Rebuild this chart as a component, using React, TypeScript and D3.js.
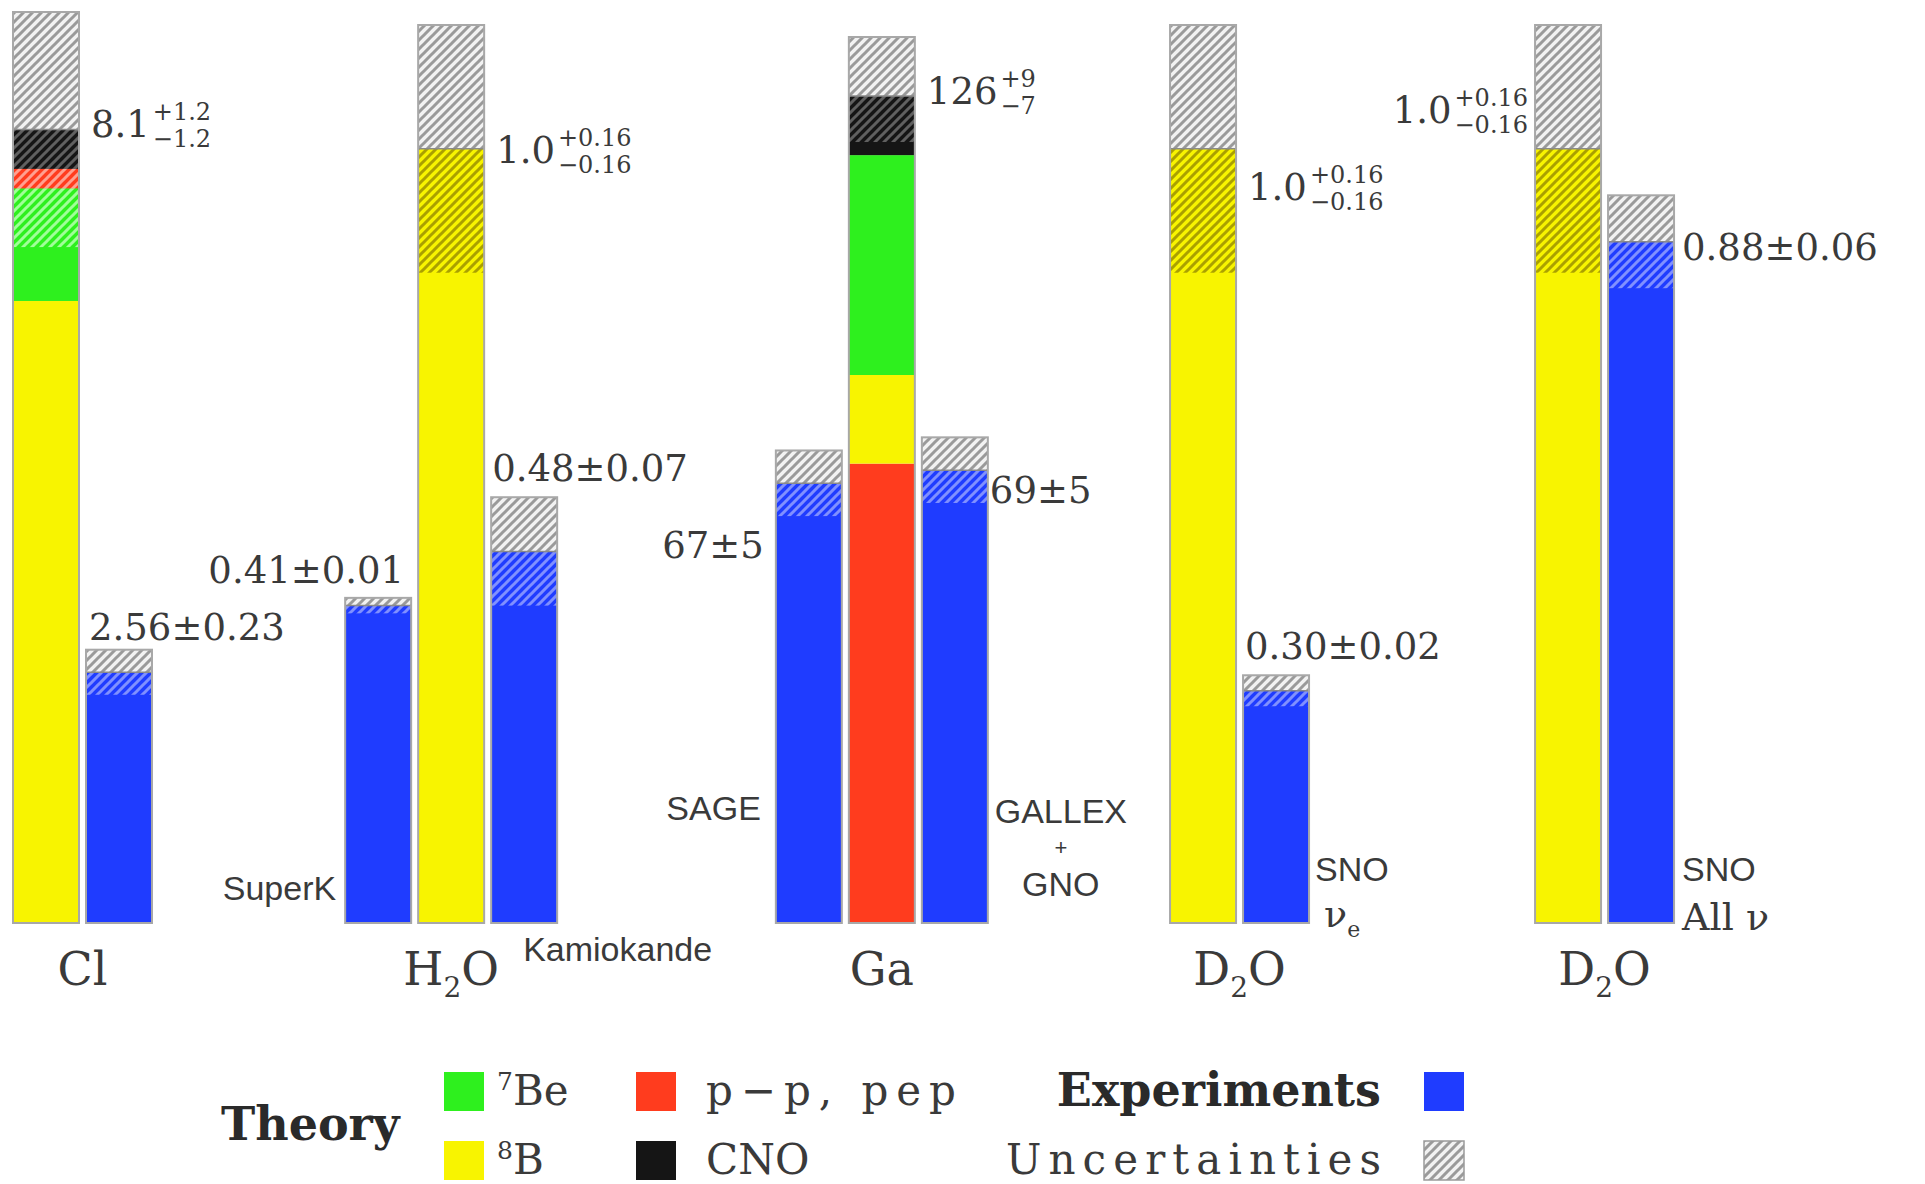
import React from "react";
import * as d3 from "d3";

// ---------------- data ----------------
const groupNames = ["Cl", "H2O", "Ga", "D2O", "D2O"];
const groupDomainMax = [9.3, 1.16, 135, 1.16, 1.16];

const clSources = ["8B", "7Be", "pp", "CNO"];
const clFluxes = [6.35, 1.15, 0.2, 0.4];
const waterSources = ["8B"];
const waterFluxes = [1.0];
const gaSources = ["pp", "8B", "7Be", "CNO"];
const gaFluxes = [70, 13.5, 33.5, 9];

const theorySources = [clSources, waterSources, gaSources, waterSources, waterSources];
const theoryFluxes = [clFluxes, waterFluxes, gaFluxes, waterFluxes, waterFluxes];
const theoryErrPlus = [1.2, 0.16, 9, 0.16, 0.16];
const theoryErrMinus = [1.2, 0.16, 7, 0.16, 0.16];
const theoryMain = ["8.1", "1.0", "126", "1.0", "1.0"];
const theoryPlus = ["+1.2", "+0.16", "+9", "+0.16", "+0.16"];
const theoryMinus = ["\u22121.2", "\u22120.16", "\u22127", "\u22120.16", "\u22120.16"];

const expGroup = [0, 1, 1, 2, 2, 3, 4];
const expValue = [2.56, 0.41, 0.48, 67, 69, 0.30, 0.88];
const expErr = [0.23, 0.01, 0.07, 5, 5, 0.02, 0.06];
const expLabel = ["2.56±0.23", "0.41±0.01", "0.48±0.07", "67±5", "69±5", "0.30±0.02", "0.88±0.06"];
const expNameLines = [[], ["SuperK"], ["Kamiokande"], ["SAGE"], ["GALLEX", "+", "GNO"], ["SNO", "ν_e"], ["SNO", "All  ν"]];

const legendTheory = [
  { key: "7Be", sup: "7", text: "Be" },
  { key: "pp", sup: "", text: "p\u2212p, pep" },
  { key: "8B", sup: "8", text: "B" },
  { key: "CNO", sup: "", text: "CNO" },
];

// ---------------- layout / style ----------------
const W = 1925;
const H = 1184;
const BASE_Y = 923;
const BAR_W = 66;
const groupTopY = [12, 25, 37, 25, 25];
const theorySlot = [0, 5.55, 11.45, 15.85, 20.85];
const expSlot = [1, 4.55, 6.55, 10.45, 12.45, 16.85, 21.85];
const theoryLabelSide = ["right", "right", "right", "right", "left"];
const theoryLabelDy = [7, 14, 8, 51, -26];
const expLabelAnchor = ["start", "end", "start", "end", "start", "start", "start"];
const expLabelDx = [3, 59, 1, -12, 68, 2, 74];
const expLabelDy = [-10, -15, -16, 108, 66, -16, 65];
const expNameAnchor = ["end", "end", "start", "end", "middle", "start", "start"];
const expNameDx = [-9, -9, 32, -15, 139, 72, 74];
const expNameBaselines = [[], [900], [961], [820], [823, 855, 896], [881, 927], [881, 930]];
const expNameSize = [[], [34], [34], [34], [34, 22, 34], [34, 38], [34, 38]];
const expNameSerif = [[], [false], [false], [false], [false, false, false], [false, true], [false, true]];

const FILL: Record<string, string> = {
  "8B": "#f8f400",
  "7Be": "#2ef01e",
  pp: "#ff3c1e",
  CNO: "#151515",
  exp: "#1f3cff",
  unc: "#f2f2f2",
};
const STRIPE: Record<string, string> = {
  "8B": "#aaa000",
  "7Be": "#a0ff98",
  pp: "#ffa090",
  CNO: "#606060",
  exp: "#8090ff",
  unc: "#9a9a9a",
};

const SERIF = "'DejaVu Serif', 'Liberation Serif', serif";
const SANS = "'Liberation Sans', Arial, sans-serif";
const TEXT = "#3a3a3a";
const NUM_FONT = 37;
const SUP_FONT = 24;
const CAT_FONT = 46;
const LEG_FONT = 42;

const xSlot = d3.scaleLinear().domain([0, 1]).range([13, 86]);
const yScales = groupDomainMax.map((m, g) =>
  d3.scaleLinear().domain([0, m]).range([BASE_Y, groupTopY[g]])
);

function serifWidth(s: string, size: number) {
  let w = 0;
  for (const c of s) w += c === "." ? 0.318 : c === "+" || c === "\u2212" ? 0.838 : 0.636;
  return w * size;
}

type Seg = { key: string; v0: number; v1: number };

function HatchedBar({ x, y, segs, central, lo, hi }: { x: number; y: d3.ScaleLinear<number, number>; segs: Seg[]; central: number; lo: number; hi: number }) {
  const parts: JSX.Element[] = [];
  segs.forEach((s, i) => {
    parts.push(
      <rect key={"s" + i} x={x} width={BAR_W} y={y(s.v1)} height={y(s.v0) - y(s.v1)} fill={FILL[s.key]} />
    );
  });
  segs.forEach((s, i) => {
    const a = Math.max(s.v0, lo);
    const b = Math.min(s.v1, central);
    if (b > a) {
      parts.push(
        <rect key={"h" + i} x={x} width={BAR_W} y={y(b)} height={y(a) - y(b)} fill={`url(#hatch-${s.key})`} />
      );
    }
  });
  parts.push(
    <rect key="unc" x={x} width={BAR_W} y={y(hi)} height={y(central) - y(hi)} fill="url(#hatch-unc)" />
  );
  parts.push(
    <line key="cl" x1={x} x2={x + BAR_W} y1={y(central)} y2={y(central)} stroke="#8a8a8a" strokeWidth={1.5} />
  );
  parts.push(
    <rect key="o" x={x} width={BAR_W} y={y(hi)} height={y(0) - y(hi)} fill="none" stroke="#a8a8a8" strokeWidth={2} />
  );
  return <g>{parts}</g>;
}

function renderName(line: string) {
  if (line.includes("_")) {
    const [a, b] = line.split("_");
    return (
      <>
        {a}
        <tspan dy={10} fontSize={22}>{b}</tspan>
      </>
    );
  }
  return line;
}

export default function App() {
  const hatchKeys = Object.keys(FILL);

  const theoryBars = groupNames.map((_, g) => {
    const y = yScales[g];
    const fl = theoryFluxes[g];
    const cum = d3.cumsum(fl);
    const segs: Seg[] = theorySources[g].map((k, i) => ({ key: k, v0: cum[i] - fl[i], v1: cum[i] }));
    const central = cum[cum.length - 1];
    const x = xSlot(theorySlot[g]);
    const lo = central - theoryErrMinus[g];
    const hi = central + theoryErrPlus[g];
    const baseline = y(central) + theoryLabelDy[g];
    const supW = Math.max(serifWidth(theoryPlus[g], SUP_FONT), serifWidth(theoryMinus[g], SUP_FONT));
    const mainW = serifWidth(theoryMain[g], NUM_FONT);
    let mainX: number, supX: number;
    if (theoryLabelSide[g] === "right") {
      mainX = x + BAR_W + 12;
      supX = mainX + mainW + 3;
    } else {
      supX = x - 7 - supW;
      mainX = supX - 3 - mainW;
    }
    return (
      <g key={"t" + g}>
        <HatchedBar x={x} y={y} segs={segs} central={central} lo={lo} hi={hi} />
        <text x={mainX} y={baseline} fontFamily={SERIF} fontSize={NUM_FONT} fill={TEXT}>{theoryMain[g]}</text>
        <text x={supX} y={baseline - 17} fontFamily={SERIF} fontSize={SUP_FONT} fill={TEXT}>{theoryPlus[g]}</text>
        <text x={supX} y={baseline + 10} fontFamily={SERIF} fontSize={SUP_FONT} fill={TEXT}>{theoryMinus[g]}</text>
      </g>
    );
  });

  const expBars = expValue.map((v, i) => {
    const g = expGroup[i];
    const y = yScales[g];
    const x = xSlot(expSlot[i]);
    const segs: Seg[] = [{ key: "exp", v0: 0, v1: v }];
    const top = y(v + expErr[i]);
    return (
      <g key={"e" + i}>
        <HatchedBar x={x} y={y} segs={segs} central={v} lo={v - expErr[i]} hi={v + expErr[i]} />
        <text x={x + expLabelDx[i]} y={top + expLabelDy[i]} textAnchor={expLabelAnchor[i]} fontFamily={SERIF} fontSize={NUM_FONT} fill={TEXT}>
          {expLabel[i]}
        </text>
        {expNameLines[i].map((line, j) => (
          <text
            key={j}
            x={x + expNameDx[i] + (expNameSerif[i][j] && i === 5 ? 9 : 0)}
            y={expNameBaselines[i][j]}
            textAnchor={expNameSerif[i][j] ? "start" : expNameAnchor[i]}
            fontFamily={expNameSerif[i][j] ? SERIF : SANS}
            fontSize={expNameSize[i][j]}
            fill={TEXT}
          >
            {renderName(line)}
          </text>
        ))}
      </g>
    );
  });

  const catLabels = groupNames.map((name, g) => {
    const xs = [xSlot(theorySlot[g]) + BAR_W / 2];
    expGroup.forEach((eg, i) => {
      if (eg === g) xs.push(xSlot(expSlot[i]) + BAR_W / 2);
    });
    const cx = d3.mean(xs) as number;
    const hasSub = name.includes("2");
    return (
      <text key={"c" + g} x={cx} y={985} textAnchor="middle" fontFamily={SERIF} fontSize={CAT_FONT} fill={TEXT}>
        {hasSub ? (
          <>
            {name.split("2")[0]}
            <tspan dy={12} fontSize={28}>2</tspan>
            <tspan dy={-12}>{name.split("2")[1]}</tspan>
          </>
        ) : (
          name
        )}
      </text>
    );
  });

  const legSq = 40;
  const legCols = [444, 636];
  const legRows = [1072, 1141];

  return (
    <svg width={W} height={H} style={{ position: "absolute", left: 0, top: 0, background: "#fff" }}>
      <defs>
        {hatchKeys.map((k) => (
          <pattern key={k} id={`hatch-${k}`} patternUnits="userSpaceOnUse" width={9} height={9}>
            <rect width={9} height={9} fill={FILL[k]} />
            <path d="M-2,2 L2,-2 M0,9 L9,0 M7,11 L11,7" stroke={STRIPE[k]} strokeWidth={3} />
          </pattern>
        ))}
      </defs>
      <rect width={W} height={H} fill="#fff" />
      {theoryBars}
      {expBars}
      {catLabels}

      {/* legend */}
      <text x={221} y={1140} fontFamily={SERIF} fontWeight="bold" fontSize={46} fill="#2a2a2a">Theory</text>
      {legendTheory.map((it, i) => {
        const col = i % 2;
        const row = Math.floor(i / 2);
        const sx = legCols[col];
        const sy = legRows[row];
        return (
          <g key={"l" + i}>
            <rect x={sx} y={sy} width={legSq} height={legSq - 1} fill={FILL[it.key]} />
            <text x={sx + 53 + (col === 1 ? 17 : 0)} y={sy + 33} fontFamily={SERIF} fontSize={LEG_FONT} fill={TEXT}
              textLength={col === 1 && row === 0 ? 250 : undefined} lengthAdjust="spacing">
              {it.sup ? (
                <>
                  <tspan fontSize={25} dy={-15}>{it.sup}</tspan>
                  <tspan dy={15}>{it.text}</tspan>
                </>
              ) : (
                it.text
              )}
            </text>
          </g>
        );
      })}
      <text x={1381} y={1106} textAnchor="end" fontFamily={SERIF} fontWeight="bold" fontSize={46} fill="#2a2a2a">Experiments</text>
      <text x={1381} y={1174} textAnchor="end" fontFamily={SERIF} fontSize={LEG_FONT} fill={TEXT} textLength={375} lengthAdjust="spacing">Uncertainties</text>
      <rect x={1424} y={1072} width={legSq} height={legSq - 1} fill={FILL.exp} />
      <rect x={1424} y={1141} width={legSq} height={legSq - 1} fill="url(#hatch-unc)" stroke="#9a9a9a" strokeWidth={1.5} />
    </svg>
  );
}
